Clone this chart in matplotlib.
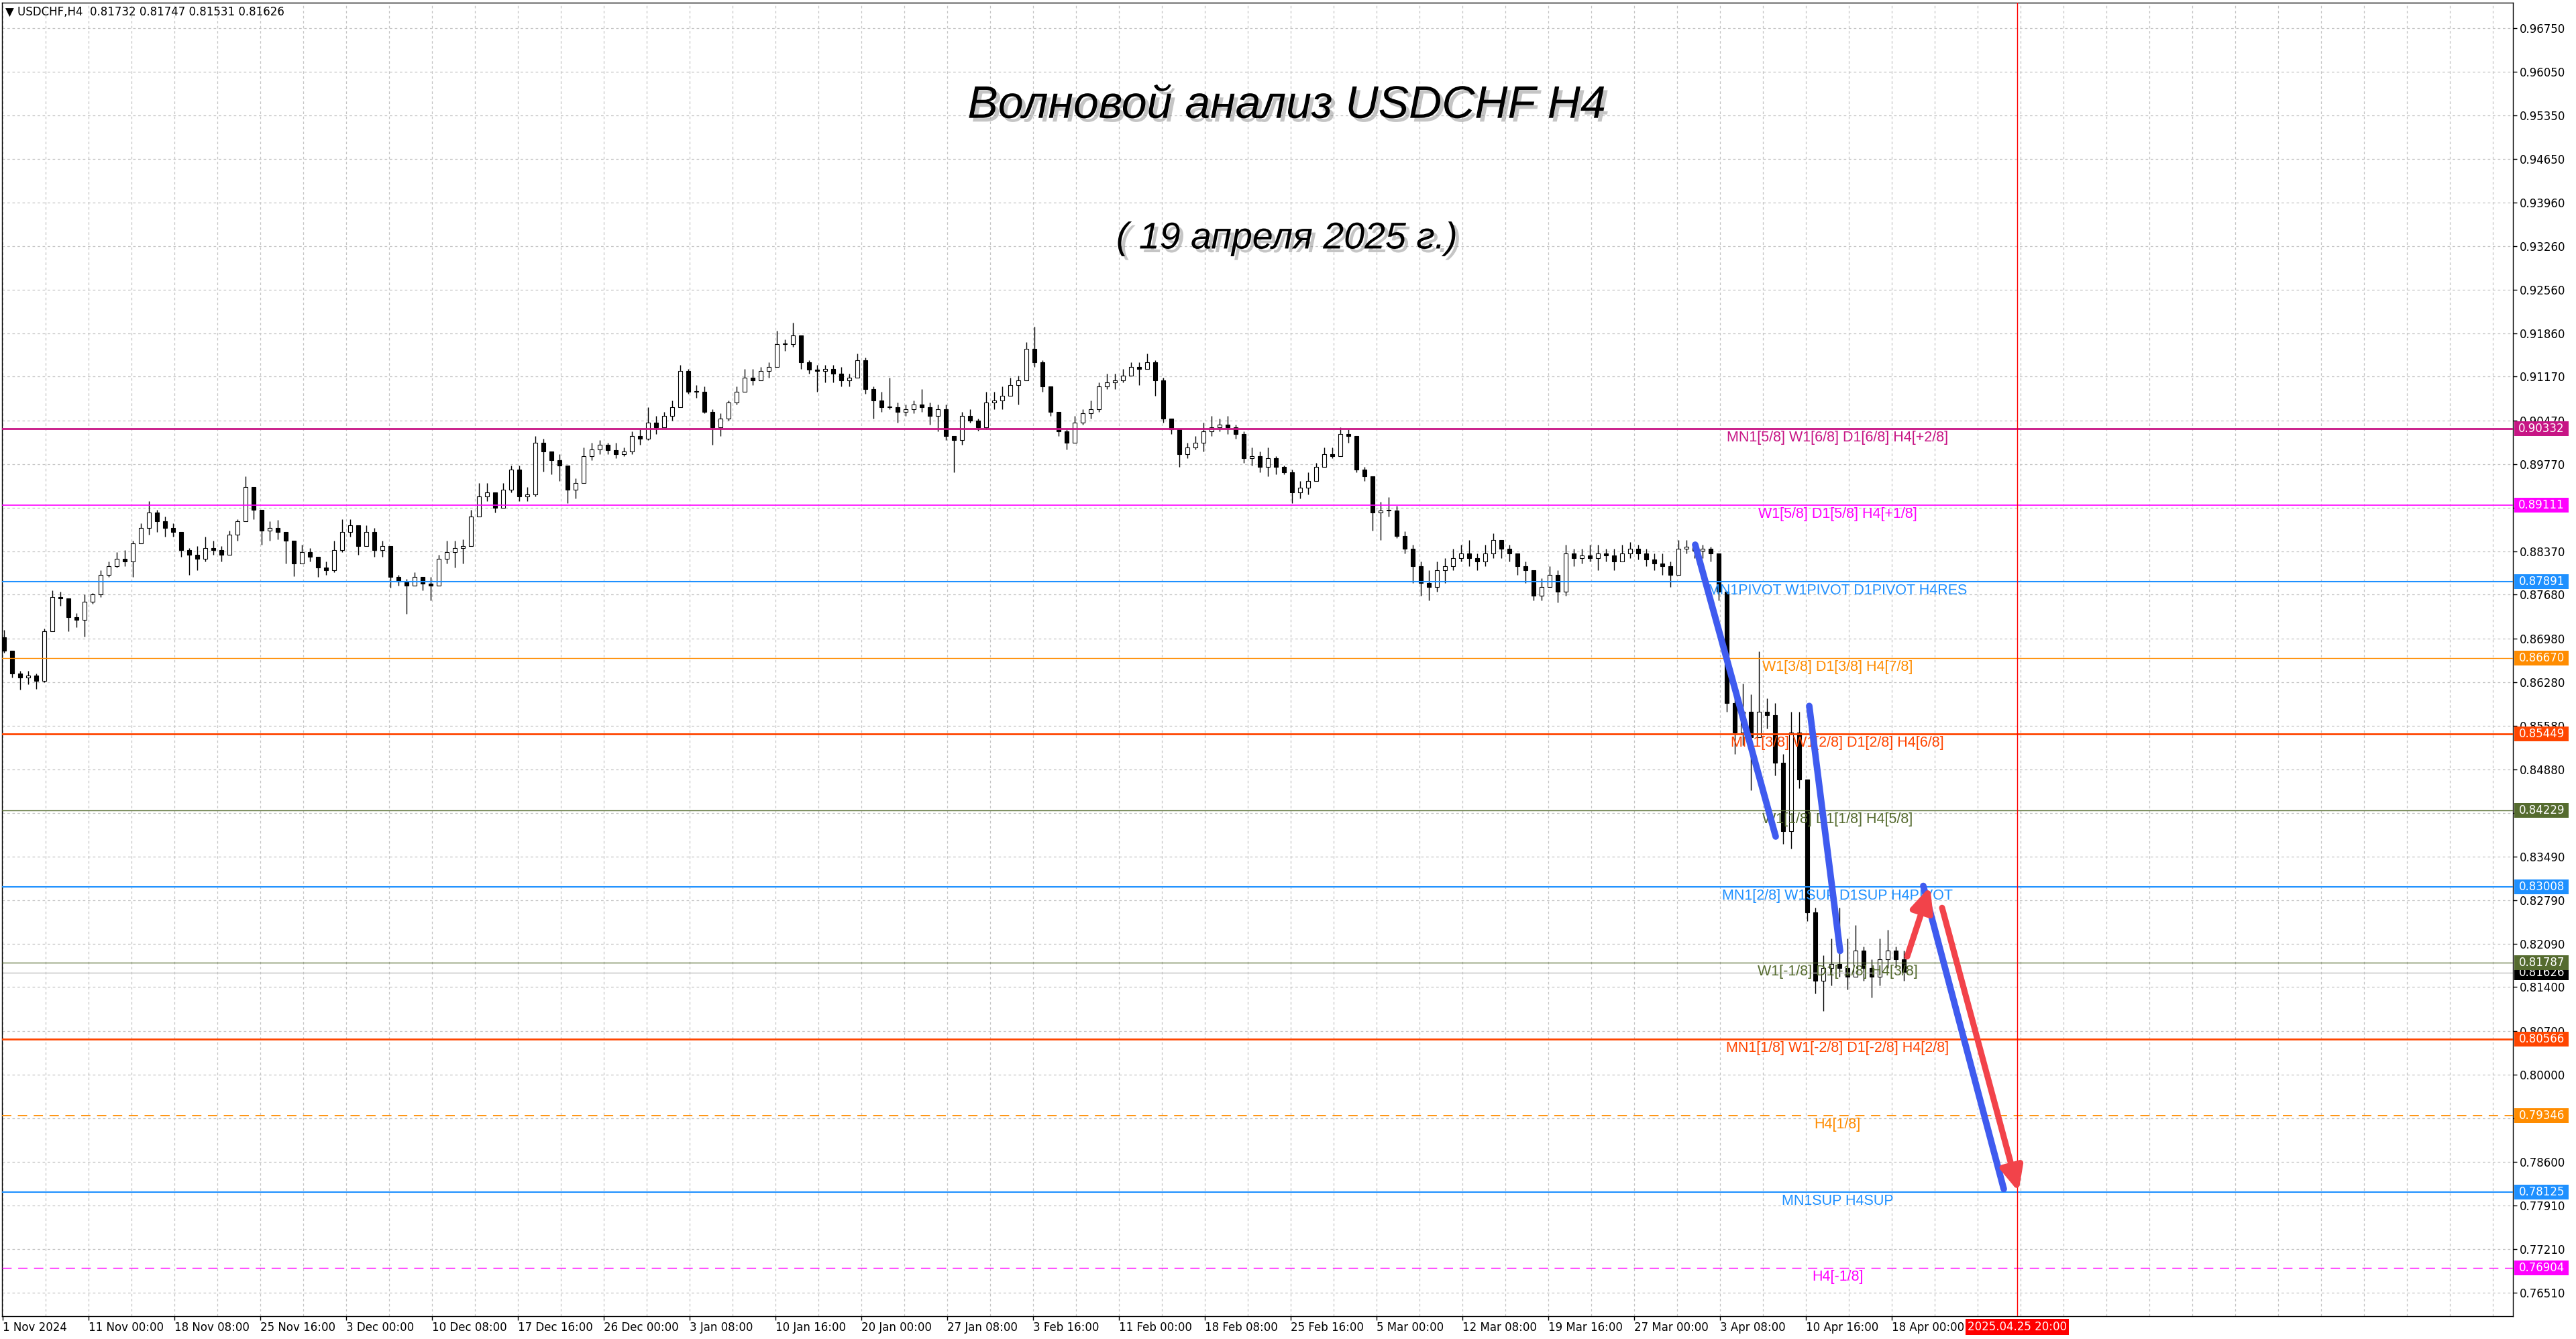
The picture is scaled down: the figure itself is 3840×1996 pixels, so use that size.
import numpy as np
import matplotlib.pyplot as plt
import matplotlib.transforms as mtransforms
from matplotlib import patheffects as pe
from matplotlib.patches import Rectangle

# ---- price data (USDCHF H4, one candle per 3 bars) ----
first_open = 0.8700

closes = [
    0.8678, 0.8642, 0.8635, 0.8639, 0.8630, 0.8710, 0.8764, 0.8762, 0.8732, 0.8728,
    0.8757, 0.8768, 0.8800, 0.8814, 0.8825, 0.8821, 0.8850, 0.8875, 0.8900, 0.8886,
    0.8875, 0.8868, 0.8839, 0.8832, 0.8825, 0.8843, 0.8839, 0.8832, 0.8864, 0.8886,
    0.8940, 0.8904, 0.8871, 0.8875, 0.8868, 0.8854, 0.8818, 0.8836, 0.8829, 0.8811,
    0.8807, 0.8839, 0.8868, 0.8879, 0.8846, 0.8868, 0.8839, 0.8846, 0.8796, 0.8789,
    0.8782, 0.8796, 0.8786, 0.8782, 0.8825, 0.8836, 0.8843, 0.8846, 0.8893, 0.8925,
    0.8932, 0.8907, 0.8936, 0.8968, 0.8925, 0.8929, 0.9011, 0.8997, 0.8983, 0.8975,
    0.8936, 0.8947, 0.8990, 0.9000, 0.9008, 0.8999, 0.8993, 0.8997, 0.9022, 0.9018,
    0.9043, 0.9036, 0.9054,
    0.9068, 0.9126, 0.9093, 0.9093, 0.9061, 0.9036, 0.9050, 0.9076, 0.9093, 0.9115,
    0.9111, 0.9126, 0.9133, 0.9169, 0.9169, 0.9183, 0.9140, 0.9128, 0.9126, 0.9129,
    0.9122, 0.9111, 0.9115, 0.9143, 0.9097, 0.9079, 0.9068, 0.9068, 0.9061, 0.9065,
    0.9072, 0.9068, 0.9054, 0.9065, 0.9022, 0.9015, 0.9054, 0.9047, 0.9036, 0.9076,
    0.9079, 0.9086, 0.9104, 0.9111, 0.9161, 0.9140, 0.9101, 0.9061, 0.9029, 0.9011,
    0.9043, 0.9058, 0.9065, 0.9101, 0.9108, 0.9111, 0.9118, 0.9133, 0.9129, 0.9140,
    0.9111, 0.9050, 0.9033, 0.8993, 0.9004, 0.9011, 0.9029, 0.9036, 0.9040, 0.9036,
    0.9025, 0.8986, 0.8990, 0.8972, 0.8986, 0.8972, 0.8964, 0.8932, 0.8939, 0.8950,
    0.8972, 0.8993, 0.8990, 0.9025, 0.9022, 0.8968, 0.8957, 0.8900,
    0.8903, 0.8903, 0.8862, 0.8841, 0.8814, 0.8787, 0.8780, 0.8807, 0.8814, 0.8827,
    0.8834, 0.8827, 0.8821, 0.8834, 0.8855, 0.8841, 0.8834, 0.8814, 0.8807, 0.8766,
    0.8780, 0.8800, 0.8773, 0.8834, 0.8827, 0.8831, 0.8827, 0.8834, 0.8831, 0.8821,
    0.8834, 0.8841, 0.8834, 0.8824, 0.8818, 0.8814, 0.8800, 0.8841, 0.8845, 0.8838,
    0.8841, 0.8834, 0.8773, 0.8595, 0.8547, 0.8581, 0.8540, 0.8581, 0.8575, 0.8499,
    0.8390, 0.8547, 0.8472, 0.8260, 0.8150, 0.8171, 0.8177, 0.8171, 0.8157, 0.8198,
    0.8171, 0.8157, 0.8184, 0.8198, 0.8184, 0.8163,
]

highs = [
    0.8712, 0.8664, 0.8646, 0.8646, 0.8642, 0.8714, 0.8775, 0.8773, 0.8753, 0.8739,
    0.8768, 0.8771, 0.8807, 0.8821, 0.8836, 0.8839, 0.8854, 0.8882, 0.8918, 0.8904,
    0.8893, 0.8882, 0.8868, 0.8843, 0.8846, 0.8861, 0.8854, 0.8846, 0.8871, 0.8889,
    0.8957, 0.8918, 0.8897, 0.8886, 0.8888, 0.8868, 0.8839, 0.8848, 0.8843, 0.8829,
    0.8821, 0.8854, 0.8889, 0.8889, 0.8879, 0.8879, 0.8875, 0.8854, 0.8839, 0.8800,
    0.8793, 0.8804, 0.8796, 0.8796, 0.8832, 0.8854, 0.8854, 0.8857, 0.8904, 0.8947,
    0.8947, 0.8929, 0.8947, 0.8975, 0.8975, 0.8940, 0.9022, 0.9018, 0.8997, 0.8993,
    0.8975, 0.8954, 0.9004, 0.9011, 0.9015, 0.9011, 0.9011, 0.9004, 0.9029, 0.9033,
    0.9068, 0.9054, 0.9061,
    0.9079, 0.9136, 0.9129, 0.9104, 0.9101, 0.9065, 0.9058, 0.9079, 0.9101, 0.9129,
    0.9129, 0.9133, 0.9140, 0.9190, 0.9176, 0.9203, 0.9176, 0.9143, 0.9136, 0.9136,
    0.9136, 0.9133, 0.9122, 0.9154, 0.9147, 0.9101, 0.9093, 0.9115, 0.9076, 0.9072,
    0.9079, 0.9097, 0.9076, 0.9072, 0.9072, 0.9022, 0.9061, 0.9065, 0.9050, 0.9093,
    0.9093, 0.9101, 0.9115, 0.9118, 0.9172, 0.9197, 0.9143, 0.9101, 0.9061, 0.9033,
    0.9054, 0.9065, 0.9079, 0.9108, 0.9122, 0.9122, 0.9129, 0.9140, 0.9140, 0.9154,
    0.9143, 0.9115, 0.9050, 0.9029, 0.9011, 0.9022, 0.9043, 0.9054, 0.9050, 0.9054,
    0.9040, 0.9029, 0.9004, 0.8997, 0.9004, 0.8990, 0.8975, 0.8968, 0.8950, 0.8964,
    0.8979, 0.9004, 0.9004, 0.9036, 0.9033, 0.9022, 0.8972, 0.8922,
    0.8917, 0.8924, 0.8910, 0.8869, 0.8848, 0.8821, 0.8807, 0.8821, 0.8827, 0.8841,
    0.8848, 0.8855, 0.8834, 0.8848, 0.8866, 0.8855, 0.8848, 0.8834, 0.8821, 0.8807,
    0.8794, 0.8814, 0.8807, 0.8848, 0.8841, 0.8841, 0.8848, 0.8848, 0.8841, 0.8841,
    0.8848, 0.8852, 0.8848, 0.8841, 0.8834, 0.8834, 0.8821, 0.8855, 0.8855, 0.8852,
    0.8848, 0.8845, 0.8834, 0.8773, 0.8602, 0.8626, 0.8609, 0.8677, 0.8602, 0.8595,
    0.8513, 0.8581, 0.8581, 0.8472, 0.8267, 0.8191, 0.8218, 0.8267, 0.8218, 0.8239,
    0.8205, 0.8184, 0.8218, 0.8232, 0.8205, 0.8198,
]

lows = [
    0.8675, 0.8635, 0.8616, 0.8625, 0.8617, 0.8628, 0.8710, 0.8750, 0.8710, 0.8716,
    0.8701, 0.8753, 0.8764, 0.8796, 0.8811, 0.8814, 0.8796, 0.8854, 0.8864, 0.8868,
    0.8861, 0.8861, 0.8829, 0.8800, 0.8807, 0.8821, 0.8832, 0.8821, 0.8832, 0.8854,
    0.8886, 0.8889, 0.8848, 0.8854, 0.8857, 0.8818, 0.8798, 0.8818, 0.8821, 0.8796,
    0.8800, 0.8804, 0.8836, 0.8861, 0.8832, 0.8846, 0.8829, 0.8829, 0.8779, 0.8782,
    0.8737, 0.8782, 0.8775, 0.8759, 0.8786, 0.8818, 0.8811, 0.8818, 0.8854, 0.8893,
    0.8918, 0.8900, 0.8911, 0.8932, 0.8918, 0.8918, 0.8925, 0.8965, 0.8961, 0.8950,
    0.8914, 0.8922, 0.8947, 0.8983, 0.8993, 0.8993, 0.8986, 0.8990, 0.8993, 0.9008,
    0.9015, 0.9025, 0.9036,
    0.9047, 0.9068, 0.9090, 0.9083, 0.9058, 0.9008, 0.9022, 0.9047, 0.9072, 0.9093,
    0.9104, 0.9111, 0.9115, 0.9133, 0.9158, 0.9165, 0.9129, 0.9122, 0.9093, 0.9108,
    0.9108, 0.9101, 0.9101, 0.9115, 0.9090, 0.9050, 0.9061, 0.9065, 0.9043, 0.9054,
    0.9058, 0.9061, 0.9040, 0.9029, 0.9015, 0.8964, 0.9008, 0.9043, 0.9031, 0.9033,
    0.9065, 0.9065, 0.9086, 0.9072, 0.9111, 0.9133, 0.9093, 0.9054, 0.9022, 0.9000,
    0.9015, 0.9040, 0.9050, 0.9061, 0.9097, 0.9097, 0.9108, 0.9126, 0.9104, 0.9129,
    0.9086, 0.9043, 0.9025, 0.8972, 0.8986, 0.9000, 0.8997, 0.9022, 0.9029, 0.9025,
    0.9018, 0.8979, 0.8975, 0.8964, 0.8957, 0.8961, 0.8961, 0.8914, 0.8922, 0.8929,
    0.8950, 0.8972, 0.8986, 0.9008, 0.9011, 0.8964, 0.8950, 0.8871,
    0.8855, 0.8893, 0.8859, 0.8834, 0.8787, 0.8766, 0.8759, 0.8773, 0.8787, 0.8807,
    0.8821, 0.8814, 0.8807, 0.8814, 0.8827, 0.8827, 0.8821, 0.8800, 0.8787, 0.8759,
    0.8759, 0.8780, 0.8756, 0.8766, 0.8814, 0.8818, 0.8821, 0.8807, 0.8821, 0.8807,
    0.8821, 0.8827, 0.8824, 0.8814, 0.8807, 0.8800, 0.8780, 0.8814, 0.8834, 0.8827,
    0.8827, 0.8821, 0.8759, 0.8581, 0.8513, 0.8527, 0.8455, 0.8547, 0.8554, 0.8479,
    0.8369, 0.8362, 0.8458, 0.8246, 0.8130, 0.8102, 0.8143, 0.8157, 0.8136, 0.8171,
    0.8150, 0.8123, 0.8143, 0.8171, 0.8171, 0.8150,
]

bars_per_candle = 3
bid = 0.81626
header = "\u25bc USDCHF,H4  0.81732 0.81747 0.81531 0.81626"

# ---- axes ----
y_ticks = [0.96750, 0.96050, 0.95350, 0.94650, 0.93960, 0.93260, 0.92560, 0.91860,
           0.91170, 0.90470, 0.89770, 0.89070, 0.88370, 0.87680, 0.86980, 0.86280,
           0.85580, 0.84880, 0.84190, 0.83490, 0.82790, 0.82090, 0.81400, 0.80700,
           0.80000, 0.79300, 0.78600, 0.77910, 0.77210, 0.76510]
y_min, y_max = 0.76134, 0.97154

x_labels = ["1 Nov 2024", "11 Nov 00:00", "18 Nov 08:00", "25 Nov 16:00", "3 Dec 00:00",
            "10 Dec 08:00", "17 Dec 16:00", "26 Dec 00:00", "3 Jan 08:00", "10 Jan 16:00",
            "20 Jan 00:00", "27 Jan 08:00", "3 Feb 16:00", "11 Feb 00:00", "18 Feb 08:00",
            "25 Feb 16:00", "5 Mar 00:00", "12 Mar 08:00", "19 Mar 16:00", "27 Mar 00:00",
            "3 Apr 08:00", "10 Apr 16:00", "18 Apr 00:00"]
label_step = 32   # bars between time labels
x_min, x_max = -0.25, 935.5

# ---- Murrey / pivot levels ----
levels = [0.90332, 0.89111, 0.87891, 0.86670, 0.85449, 0.84229,
          0.83008, 0.81787, 0.80566, 0.79346, 0.78125, 0.76904]
level_names = ["MN1[5/8] W1[6/8] D1[6/8] H4[+2/8]",
               "W1[5/8] D1[5/8] H4[+1/8]",
               "MN1PIVOT W1PIVOT D1PIVOT H4RES",
               "W1[3/8] D1[3/8] H4[7/8]",
               "MN1[3/8] W1[2/8] D1[2/8] H4[6/8]",
               "W1[1/8] D1[1/8] H4[5/8]",
               "MN1[2/8] W1SUP D1SUP H4PIVOT",
               "W1[-1/8] D1[-1/8] H4[3/8]",
               "MN1[1/8] W1[-2/8] D1[-2/8] H4[2/8]",
               "H4[1/8]",
               "MN1SUP H4SUP",
               "H4[-1/8]"]
level_colors = ["#C71585", "#FF00FF", "#1E90FF", "#FF8C00", "#FF4500", "#556B2F",
                "#1E90FF", "#556B2F", "#FF4500", "#FF8C00", "#1E90FF", "#FF00FF"]
level_dashed = [False] * 9 + [True, False, True]
level_widths = [2.0, 1.2, 1.5, 1.0, 2.0, 1.0, 1.5, 0.9, 2.0, 1.3, 1.5, 1.0]
level_text_bar = 683.8

# ---- hand-drawn wave marks ----
blue_waves = [((630.75, 0.8848), (660.75, 0.8381)),
              ((673.25, 0.8590), (684.75, 0.8198)),
              ((715.75, 0.8302), (745.75, 0.7817))]
red_arrows = [((709.75, 0.8189), (718.25, 0.8301)),
              ((722.75, 0.8267), (751.25, 0.78125))]
vline_bar = 750.75
vline_label = "2025.04.25 20:00"

title = "Волновой анализ USDCHF H4"
subtitle = "( 19 апреля 2025 г.)"

W, H = 3840, 1996
fig = plt.figure(figsize=(W / 100, H / 100), dpi=100)
ax = fig.add_axes([3 / W, 34 / H, 3743 / W, 1958 / H])
ax.set_xlim(x_min, x_max)
ax.set_ylim(y_min, y_max)

px_price = (y_max - y_min) / 1958.0

# grid
grid_kw = dict(color="#C4C4C4", linestyle=(0, (3, 3)), linewidth=0.9)
ax.set_xticks(np.arange(len(x_labels)) * label_step)
ax.set_xticklabels(x_labels, ha="left")
ax.set_xticks(np.arange(0, x_max, 16), minor=True)
ax.tick_params(axis="x", which="minor", length=0)
ax.tick_params(axis="x", which="major", length=4, width=1, pad=1.5, labelsize=12)
ax.grid(True, which="both", axis="x", **grid_kw)
ax.yaxis.tick_right()
ax.set_yticks(y_ticks)
ax.set_yticklabels([f"{t:.5f}" for t in y_ticks])
ax.tick_params(axis="y", length=4, width=1, pad=3, labelsize=12)
ax.grid(True, which="major", axis="y", **grid_kw)
ax.set_axisbelow(True)
for sp in ax.spines.values():
    sp.set_linewidth(1.0)
    sp.set_color("black")

# candles
c = np.array(closes)
o = np.r_[first_open, c[:-1]]
hi = np.maximum(np.array(highs), np.maximum(o, c))
lo = np.minimum(np.array(lows), np.minimum(o, c))
xc = np.arange(len(c)) * bars_per_candle + 0.5
body_lo = np.minimum(o, c)
body_h = np.maximum(np.abs(c - o), 0.00006)
ax.vlines(xc, lo, hi, color="black", linewidth=1.0, zorder=2)
ax.bar(xc, body_h, bottom=body_lo, width=1.35,
       color=["white" if up else "black" for up in (c >= o)],
       edgecolor="black", linewidth=0.8, zorder=2.2)

# bid line
ax.axhline(bid, color="#C0C0C0", linewidth=1.0, zorder=2.5)

# levels
for lv, name, col, dash, lw in zip(levels, level_names, level_colors, level_dashed, level_widths):
    ls = (0, (10 / lw, 7 / lw)) if dash else "-"
    ax.axhline(lv, color=col, linewidth=lw, linestyle=ls, zorder=3)
    ax.annotate(name, xy=(level_text_bar, lv), xytext=(0, -3), textcoords="offset pixels",
                ha="center", va="top", color=col, fontsize=15.5,
                family=["Liberation Sans", "DejaVu Sans"], zorder=4)

# vertical line and its date label
ax.axvline(vline_bar, color="red", linewidth=1.0, zorder=3)
tx = mtransforms.blended_transform_factory(ax.transData, ax.transAxes)
ax.text(vline_bar, -0.0035, vline_label, transform=tx, ha="center", va="top",
        color="white", fontsize=12, clip_on=False, zorder=8,
        bbox=dict(boxstyle="square,pad=0.2", fc="red", ec="none"))

# wave lines
for (x0, y0), (x1, y1) in blue_waves:
    ax.plot([x0, x1], [y0, y1], color="#3F5BEF", linewidth=7, solid_capstyle="round", zorder=5)
for (x0, y0), (x1, y1) in red_arrows:
    ax.annotate("", xy=(x1, y1), xytext=(x0, y0), zorder=5,
                arrowprops=dict(arrowstyle="-|>,head_length=1.2,head_width=0.55",
                                color="#F2434A", linewidth=6.5, shrinkA=0, shrinkB=0,
                                mutation_scale=18, capstyle="round"))

# right axis price boxes
ty = mtransforms.blended_transform_factory(ax.transAxes, ax.transData)
box_x0, box_w = 1.0006, 0.0216
box_h = 22 * px_price
ax.add_patch(Rectangle((box_x0, bid - box_h / 2), box_w, box_h, transform=ty,
                       fc="black", ec="none", clip_on=False, zorder=6))
ax.text(box_x0 + box_w / 2, bid, f"{bid:.5f}", transform=ty, ha="center", va="center",
        color="white", fontsize=12, clip_on=False, zorder=6.1)
for lv, col in zip(levels, level_colors):
    ax.add_patch(Rectangle((box_x0, lv - box_h / 2), box_w, box_h, transform=ty,
                           fc=col, ec="none", clip_on=False, zorder=7))
    ax.text(box_x0 + box_w / 2, lv, f"{lv:.5f}", transform=ty, ha="center", va="center",
            color="white", fontsize=12, clip_on=False, zorder=7.1)

# titles
shadow = [pe.withSimplePatchShadow(offset=(4, -4), shadow_rgbFace="#808080", alpha=0.45)]
ax.text(0.5116, 0.9215, title, transform=ax.transAxes, ha="center", va="center",
        fontsize=49, style="italic", family=["Liberation Sans", "DejaVu Sans"],
        path_effects=shadow, zorder=4)
ax.text(0.5116, 0.8200, subtitle, transform=ax.transAxes, ha="center", va="center",
        fontsize=40, style="italic", family=["Liberation Sans", "DejaVu Sans"],
        path_effects=shadow, zorder=4)

fig.text(8 / W, 1 - 18 / H, header, fontsize=12, ha="left", va="center")

fig.savefig("out.png", dpi=100)
